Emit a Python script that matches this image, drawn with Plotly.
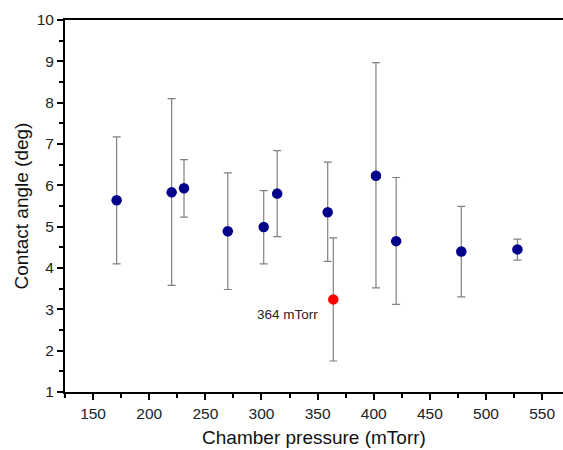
import plotly.graph_objects as go

pressure = [171, 220, 231, 270, 302, 314, 359, 402, 420, 478, 528]
angle = [5.64, 5.83, 5.93, 4.89, 4.99, 5.80, 5.35, 6.23, 4.65, 4.40, 4.45]
err_top = [7.17, 8.10, 6.62, 6.30, 5.87, 6.84, 6.56, 8.97, 6.19, 5.49, 4.70]
err_bot = [4.10, 3.58, 5.23, 3.48, 4.10, 4.76, 4.16, 3.52, 3.12, 3.30, 4.19]

hl_pressure = [364]
hl_angle = [3.24]
hl_top = [4.73]
hl_bot = [1.75]
hl_label = "364 mTorr"

plus = [t - a for t, a in zip(err_top, angle)]
minus = [a - b for a, b in zip(angle, err_bot)]
hl_plus = [t - a for t, a in zip(hl_top, hl_angle)]
hl_minus = [a - b for a, b in zip(hl_angle, hl_bot)]

fig = go.Figure()
fig.add_trace(go.Scatter(
    x=pressure, y=angle, mode="markers",
    marker=dict(color="#00008B", size=10.5),
    error_y=dict(type="data", symmetric=False, array=plus, arrayminus=minus,
                 color="#808080", thickness=1.2, width=4),
    showlegend=False))
fig.add_trace(go.Scatter(
    x=hl_pressure, y=hl_angle, mode="markers",
    marker=dict(color="#FF0000", size=10.5),
    error_y=dict(type="data", symmetric=False, array=hl_plus, arrayminus=hl_minus,
                 color="#808080", thickness=1.2, width=4),
    showlegend=False))
fig.add_annotation(x=352, y=2.87, text=hl_label, showarrow=False,
                   xanchor="right", yanchor="middle",
                   font=dict(family="Liberation Sans, Arial", size=13.5, color="#222"))

axis_font = dict(family="Liberation Sans, Arial", size=15.5, color="#222")
title_font = dict(family="Liberation Sans, Arial", size=19, color="#111")

fig.update_xaxes(range=[125, 568.6], tick0=150, dtick=50, ticks="outside",
                 ticklen=6, tickwidth=1.5, tickcolor="black",
                 minor=dict(dtick=25, tick0=150, ticks="outside", ticklen=4,
                            tickwidth=1.5, tickcolor="black"),
                 showline=True, linewidth=2, linecolor="black", mirror=True,
                 showgrid=False, zeroline=False, tickfont=axis_font, automargin=False,
                 title=dict(text="Chamber pressure (mTorr)", font=title_font, standoff=10))
fig.update_yaxes(range=[1, 10], tick0=1, dtick=1, ticks="outside",
                 ticklen=6, tickwidth=1.5, tickcolor="black",
                 minor=dict(dtick=0.5, ticks="outside", ticklen=4,
                            tickwidth=1.5, tickcolor="black"),
                 showline=True, linewidth=2, linecolor="black",
                 showgrid=False, zeroline=False, tickfont=axis_font, automargin=False,
                 title=dict(text="Contact angle (deg)", font=title_font, standoff=3))

fig.update_layout(width=563, height=450, margin=dict(l=65, r=0, t=20, b=58),
                  plot_bgcolor="white", paper_bgcolor="white")
fig.write_html("out.html", config={"displayModeBar": False},
               post_script="document.body.style.margin='0px';document.body.style.overflow='hidden';")
